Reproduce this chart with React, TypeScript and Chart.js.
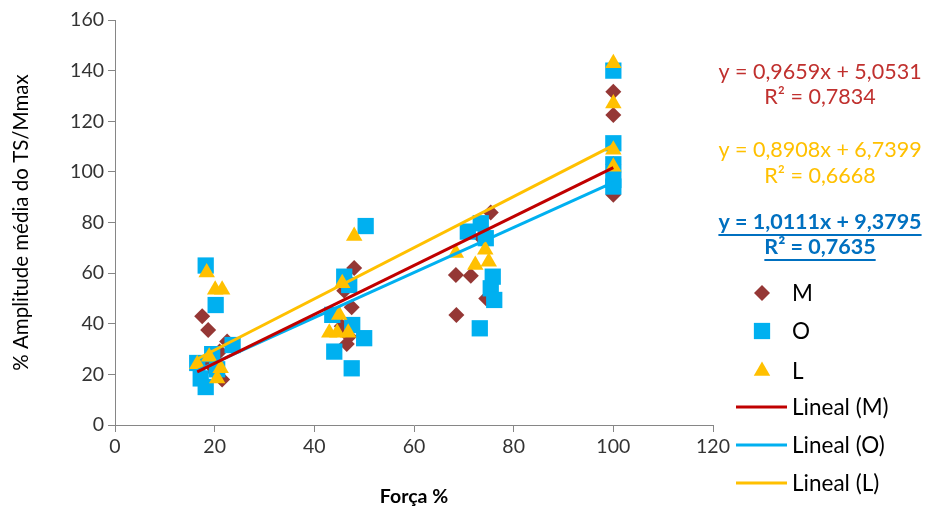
import React, { useEffect, useRef } from "react";
import { Chart, registerables } from "chart.js";

Chart.register(...registerables);

const FONT = "Lato, 'Open Sans', sans-serif";

// Series M (diamonds)
const mX = [17.5, 18.7, 22.5, 21, 20, 21.5, 19, 48, 46, 47.5, 45.5, 47, 46.5, 75.4, 73.5, 68.4, 71.4, 68.5, 74.5, 100, 100, 100, 100];
const mY = [43, 37.5, 33, 29, 21, 18, 24, 62, 53, 46.5, 39, 35, 32, 84, 74, 59.3, 59, 43.5, 50, 131.7, 122.5, 103, 91];

// Series O (squares)
const oX = [18.2, 20.2, 23.6, 16.5, 17.2, 18.2, 19.5, 20.5, 50.3, 46, 47, 43.6, 47.6, 50, 44, 47.5, 73.4, 70.8, 74.4, 75.8, 75.4, 76.1, 73.2, 100, 100, 100, 100, 100];
const oY = [63, 47.4, 31.6, 24.5, 18.4, 15, 28, 22, 78.6, 58.6, 55.3, 43.5, 39.5, 34.3, 29, 22.4, 79.7, 76.4, 73.8, 58.6, 54, 49.4, 38.2, 140, 111.3, 103, 96.8, 94.2];

// Series L (triangles)
const lX = [18.4, 20.1, 21.5, 18.9, 16.5, 21.2, 20.5, 48, 45.6, 45, 43, 44.6, 46.8, 68.4, 74.3, 75, 72.3, 100, 100, 100, 100];
const lY = [60.2, 53.4, 53.4, 27, 24, 22.4, 18.4, 74.7, 56, 43.5, 36.4, 36.4, 36.4, 68, 69.2, 64.5, 63.2, 142.9, 127, 108.7, 102];

// Linear trend lines (as drawn in the reference)
const lineNames = ["Lineal (M)", "Lineal (O)", "Lineal (L)"];
const lineSlopes = [0.9659, 0.8908, 1.0111];
const lineIntercepts = [5.0531, 6.7399, 9.3795];

// Equation labels (as printed in the reference)
const equationTexts = ["y = 0,9659x + 5,0531", "R² = 0,7834", "y = 0,8908x + 6,7399", "R² = 0,6668", "y = 1,0111x + 9,3795", "R² = 0,7635"];

const xTicks = [0, 20, 40, 60, 80, 100, 120];
const yTicks = [0, 20, 40, 60, 80, 100, 120, 140, 160];

const C_M = "#953735";
const C_O = "#00B0F0";
const C_L = "#FFC000";
const C_LINE_M = "#C00000";
const C_EQ_RED = "#C0302E";
const C_EQ_BLUE = "#0070C0";

const pts = (xs: number[], ys: number[]) => xs.map((x, i) => ({ x, y: ys[i] }));

const allX = [...mX, ...oX, ...lX];
const xMin = Math.min(...allX);
const xMax = Math.max(...allX);
const trend = (i: number) => [
  { x: xMin, y: lineSlopes[i] * xMin + lineIntercepts[i] },
  { x: xMax, y: lineSlopes[i] * xMax + lineIntercepts[i] },
];

function drawMarker(ctx: CanvasRenderingContext2D, style: string, x: number, y: number, r: number, color: string) {
  ctx.fillStyle = color;
  ctx.beginPath();
  if (style === "rectRot") {
    ctx.moveTo(x - r, y);
    ctx.lineTo(x, y - r);
    ctx.lineTo(x + r, y);
    ctx.lineTo(x, y + r);
  } else if (style === "rect") {
    const s = Math.SQRT1_2 * r;
    ctx.rect(x - s, y - s, 2 * s, 2 * s);
  } else {
    const a = (2 * Math.PI) / 3;
    ctx.moveTo(x, y - r);
    ctx.lineTo(x + Math.sin(a) * r, y - Math.cos(a) * r);
    ctx.lineTo(x + Math.sin(2 * a) * r, y - Math.cos(2 * a) * r);
  }
  ctx.closePath();
  ctx.fill();
}

const overlayPlugin = {
  id: "overlay",
  afterDraw(chart: any) {
    const ctx: CanvasRenderingContext2D = chart.ctx;
    ctx.save();
    // equations
    const eqY = [72, 97, 150, 176, 222, 247];
    const eqColors = [C_EQ_RED, C_EQ_RED, C_L, C_L, C_EQ_BLUE, C_EQ_BLUE];
    const cx = 820;
    ctx.textAlign = "center";
    ctx.textBaseline = "middle";
    equationTexts.forEach((t, i) => {
      const bold = i >= 4;
      ctx.font = `${bold ? "bold " : ""}21.5px ${FONT}`;
      ctx.fillStyle = eqColors[i];
      ctx.fillText(t, cx, eqY[i]);
      if (bold) {
        const w = ctx.measureText(t).width;
        ctx.fillRect(cx - w / 2, eqY[i] + 12, w, 2);
      }
    });
    // legend
    ctx.textAlign = "left";
    ctx.font = `22.5px ${FONT}`;
    const mk = [
      { s: "rectRot", r: 8, c: C_M, label: "M", y: 293 },
      { s: "rect", r: 11.5, c: C_O, label: "O", y: 331 },
      { s: "triangle", r: 9.5, c: C_L, label: "L", y: 371 },
    ];
    mk.forEach((m) => {
      drawMarker(ctx, m.s, 762, m.y, m.r, m.c);
      ctx.fillStyle = "#000";
      ctx.fillText(m.label, 792, m.y + 1);
    });
    const lc = [C_LINE_M, C_O, C_L];
    const ly = [407, 445, 483];
    lineNames.forEach((n, i) => {
      ctx.fillStyle = lc[i];
      ctx.fillRect(736, ly[i] - 1.5, 51, 3);
      ctx.fillStyle = "#000";
      ctx.fillText(n, 792, ly[i] + 1);
    });
    ctx.restore();
  },
};

export default function App() {
  const ref = useRef<HTMLCanvasElement | null>(null);
  useEffect(() => {
    document.body.style.margin = "0";
    if (!ref.current) return;
    const chart = new Chart(ref.current, {
      type: "scatter",
      data: {
        datasets: [
          { label: lineNames[0], data: trend(0), showLine: true, borderColor: C_LINE_M, borderWidth: 3, pointRadius: 0, order: 0 },
          { label: lineNames[1], data: trend(1), showLine: true, borderColor: C_O, borderWidth: 3, pointRadius: 0, order: 0 },
          { label: lineNames[2], data: trend(2), showLine: true, borderColor: C_L, borderWidth: 3, pointRadius: 0, order: 0 },
          { label: "L", data: pts(lX, lY), pointStyle: "triangle", pointRadius: 9.5, backgroundColor: C_L, borderWidth: 0, order: 1 },
          { label: "O", data: pts(oX, oY), pointStyle: "rect", pointRadius: 11.5, backgroundColor: C_O, borderWidth: 0, order: 2 },
          { label: "M", data: pts(mX, mY), pointStyle: "rectRot", pointRadius: 8, backgroundColor: C_M, borderWidth: 0, order: 3 },
        ] as any,
      },
      options: {
        animation: false,
        responsive: false,
        devicePixelRatio: 1,
        events: [],
        layout: { padding: { top: 20, right: 216, bottom: 0, left: 0 } },
        plugins: { legend: { display: false }, tooltip: { enabled: false } },
        scales: {
          x: {
            type: "linear",
            min: 0,
            max: 120,
            afterBuildTicks: (s: any) => { s.ticks = xTicks.map((v) => ({ value: v })); },
            afterFit: (s: any) => { s.height = 83; },
            grid: { drawOnChartArea: false, drawTicks: true, tickLength: 7, color: "#868686" },
            border: { color: "#868686", width: 1 },
            ticks: { color: "#333", font: { family: FONT, size: 19.5 }, padding: 3 },
            title: { display: true, text: "Força %", color: "#000", font: { family: FONT, size: 19.5, weight: "bold" }, padding: { top: 0, bottom: 0 } },
          },
          y: {
            type: "linear",
            min: 0,
            max: 160,
            afterBuildTicks: (s: any) => { s.ticks = yTicks.map((v) => ({ value: v })); },
            afterFit: (s: any) => { s.width = 115; },
            grid: { drawOnChartArea: false, drawTicks: true, tickLength: 7, color: "#868686" },
            border: { color: "#868686", width: 1 },
            ticks: { color: "#333", font: { family: FONT, size: 19.5 }, padding: 4 },
            title: { display: true, text: "% Amplitude média do TS/Mmax", color: "#000", font: { family: FONT, size: 20.5 }, padding: { top: 9, bottom: 0 } },
          },
        },
      },
      plugins: [overlayPlugin],
    });
    return () => chart.destroy();
  }, []);
  return (
    <div style={{ width: 929, height: 508 }}>
      <canvas ref={ref} width={929} height={508} />
    </div>
  );
}
